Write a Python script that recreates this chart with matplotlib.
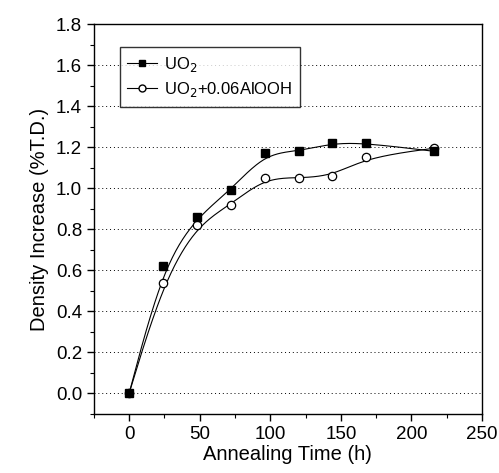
import numpy as np
import matplotlib
matplotlib.use('Agg')
import matplotlib.pyplot as plt
from matplotlib.ticker import MultipleLocator

plt.rcParams['font.family'] = ['Liberation Sans', 'DejaVu Sans']

time_h = [0, 24, 48, 72, 96, 120, 144, 168, 216]
uo2 = [0.0, 0.62, 0.86, 0.99, 1.17, 1.18, 1.22, 1.22, 1.18]
uo2_alooh = [0.0, 0.54, 0.82, 0.92, 1.05, 1.05, 1.06, 1.15, 1.195]


def bspline(x, y, n=30):
    # cubic B-spline using the data as control points (ends clamped)
    p = np.column_stack([x, y]).astype(float)
    p = np.vstack([p[0], p[0], p, p[-1], p[-1]])
    t = np.linspace(0, 1, n)
    out = []
    for i in range(len(p) - 3):
        p0, p1, p2, p3 = p[i], p[i + 1], p[i + 2], p[i + 3]
        b0 = (1 - t) ** 3
        b1 = 3 * t ** 3 - 6 * t ** 2 + 4
        b2 = -3 * t ** 3 + 3 * t ** 2 + 3 * t + 1
        b3 = t ** 3
        seg = (np.outer(b0, p0) + np.outer(b1, p1) + np.outer(b2, p2) + np.outer(b3, p3)) / 6
        out.append(seg)
    out = np.vstack(out)
    return out[:, 0], out[:, 1]


fig = plt.figure(figsize=(4.99, 4.73), dpi=100)
ax = fig.add_axes([0.188, 0.125, 0.778, 0.824])

for yv in np.arange(0.0, 1.61, 0.2):
    ax.axhline(yv, color='black', lw=0.7, ls=(0, (1, 3)), zorder=0)

sx, sy = bspline(time_h, uo2)
ax.plot(sx, sy, color='black', lw=0.8)
cx, cy = bspline(time_h, uo2_alooh)
ax.plot(cx, cy, color='black', lw=0.8)

ax.plot(time_h, uo2_alooh, ls='none', marker='o', ms=6, mfc='white', mec='black', mew=0.9,
        zorder=3)
ax.plot(time_h, uo2, ls='none', marker='s', ms=6, color='black', zorder=4)

# legend handles with line through marker
h1, = ax.plot([], [], color='black', lw=0.8, marker='s', ms=5)
h2, = ax.plot([], [], color='black', lw=0.8, marker='o', ms=5, mfc='white')
leg = ax.legend([h1, h2], ['UO$_2$', 'UO$_2$+0.06AlOOH'], loc='upper left',
                bbox_to_anchor=(0.067, 0.941), borderaxespad=0, fontsize=12,
                frameon=True, fancybox=False, edgecolor='black', handlelength=1.8,
                handletextpad=0.4, borderpad=0.45, labelspacing=0.4)
leg.get_frame().set_linewidth(1.0)

ax.set_xlim(-25, 250)
ax.set_ylim(-0.1, 1.8)
ax.xaxis.set_major_locator(MultipleLocator(50))
ax.xaxis.set_minor_locator(MultipleLocator(25))
ax.yaxis.set_major_locator(MultipleLocator(0.2))
ax.yaxis.set_minor_locator(MultipleLocator(0.1))
ax.yaxis.set_major_formatter(matplotlib.ticker.FormatStrFormatter('%.1f'))
ax.tick_params(direction='out', length=5, width=1, labelsize=13.5)
ax.tick_params(which='minor', direction='out', length=3, width=0.8)
for s in ax.spines.values():
    s.set_linewidth(1.0)

ax.set_xlabel('Annealing Time (h)', fontsize=14.5, labelpad=2)
ax.set_ylabel('Density Increase (%T.D.)', fontsize=14.5, labelpad=5)

fig.savefig('out.png', dpi=100)
